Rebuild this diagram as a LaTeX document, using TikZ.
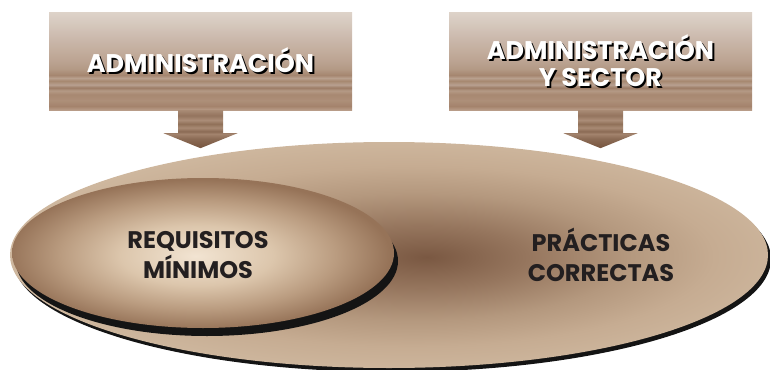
\documentclass[tikz,border=0pt]{standalone}
\usepackage{fontspec}
\setmainfont{Poppins}
\usetikzlibrary{shapes.geometric,shadows}
\definecolor{txtdark}{HTML}{231F20}
% box stripes (bottom = 25bp, top = 75bp)
\pgfdeclareverticalshading{boxsh}{100bp}{%
 color(0bp)=(rgb,255:red,184;green,156;blue,136);
 color(25bp)=(rgb,255:red,184;green,156;blue,136);
 color(27bp)=(rgb,255:red,164;green,131;blue,108);
 color(30bp)=(rgb,255:red,173;green,143;blue,121);
 color(33bp)=(rgb,255:red,168;green,136;blue,113);
 color(35bp)=(rgb,255:red,180;green,154;blue,134);
 color(36.5bp)=(rgb,255:red,156;green,124;blue,102);
 color(38bp)=(rgb,255:red,184;green,160;blue,144);
 color(40bp)=(rgb,255:red,166;green,136;blue,112);
 color(41.5bp)=(rgb,255:red,184;green,160;blue,142);
 color(43bp)=(rgb,255:red,165;green,134;blue,111);
 color(46bp)=(rgb,255:red,179;green,153;blue,133);
 color(50bp)=(rgb,255:red,187;green,163;blue,145);
 color(55bp)=(rgb,255:red,194;green,172;blue,156);
 color(62bp)=(rgb,255:red,203;green,185;blue,172);
 color(70bp)=(rgb,255:red,214;green,201;blue,190);
 color(75bp)=(rgb,255:red,221;green,210;blue,200);
 color(100bp)=(rgb,255:red,221;green,210;blue,200)}
% arrow shading
\pgfdeclareverticalshading{arrsh}{100bp}{%
 color(0bp)=(rgb,255:red,118;green,84;blue,62);
 color(25bp)=(rgb,255:red,118;green,84;blue,62);
 color(38bp)=(rgb,255:red,140;green,108;blue,86);
 color(44bp)=(rgb,255:red,163;green,132;blue,110);
 color(47bp)=(rgb,255:red,138;green,106;blue,84);
 color(52bp)=(rgb,255:red,168;green,138;blue,116);
 color(57bp)=(rgb,255:red,144;green,112;blue,88);
 color(62bp)=(rgb,255:red,171;green,141;blue,120);
 color(68bp)=(rgb,255:red,148;green,116;blue,94);
 color(75bp)=(rgb,255:red,168;green,138;blue,116);
 color(100bp)=(rgb,255:red,168;green,138;blue,116)}
% big ellipse: dark centre, tan edge
\pgfdeclareradialshading{bigsh}{\pgfpoint{2.5bp}{-0.5bp}}{%
 color(0bp)=(rgb,255:red,122;green,88;blue,66);
 color(7bp)=(rgb,255:red,150;green,118;blue,94);
 color(14bp)=(rgb,255:red,180;green,152;blue,126);
 color(20bp)=(rgb,255:red,198;green,172;blue,146);
 color(26bp)=(rgb,255:red,206;green,183;blue,158);
 color(50bp)=(rgb,255:red,206;green,183;blue,158)}
% small ellipse: light centre, darker edge
\pgfdeclareradialshading{smallsh}{\pgfpoint{-1bp}{-1bp}}{%
 color(0bp)=(rgb,255:red,242;green,228;blue,210);
 color(10bp)=(rgb,255:red,220;green,198;blue,172);
 color(18bp)=(rgb,255:red,186;green,156;blue,128);
 color(25bp)=(rgb,255:red,150;green,115;blue,88);
 color(50bp)=(rgb,255:red,150;green,115;blue,88)}
\newcommand{\shtx}[1]{\makebox[0pt][l]{\hspace{1.8pt}\raisebox{-1.8pt}{\textcolor{black}{#1}}}\textcolor{white}{#1}}
\begin{document}
\begin{tikzpicture}[x=1pt,y=-1pt,
  box/.style={rectangle, inner sep=0pt, minimum width=303pt, minimum height=97pt,
    shade, shading=boxsh, align=center, font=\fontsize{25.5}{27}\selectfont\bfseries},
  fatarrow/.style={shade, shading=arrsh},
  bigell/.style={ellipse, inner sep=0pt, minimum width=758pt, minimum height=226pt,
    shade, shading=bigsh,
    drop shadow={shadow xshift=3pt, shadow yshift=-4pt, fill=black!92, opacity=1}},
  smallell/.style={ellipse, inner sep=0pt, minimum width=382pt, minimum height=150pt,
    shade, shading=smallsh,
    drop shadow={shadow xshift=4pt, shadow yshift=-8pt, fill=black!92, opacity=1}},
  elltext/.style={align=center, text=txtdark,
    font=\fontsize{24}{30}\selectfont\bfseries}]
\useasboundingbox (0,0) rectangle (770,369);
% ellipses
\node[bigell] (big) at (389,255) {};
\node[smallell] (small) at (203,253) {};
\node[elltext] (req) at (198,255) {REQUISITOS\\MÍNIMOS};
\node[elltext] (prac) at (601,255) {PRÁCTICAS\\CORRECTAS};
% boxes
\node[box] (boxL) at (200.5,61.5) {\shtx{ADMINISTRACIÓN}};
\node[box] (boxR) at (600.5,61.5) {\shtx{ADMINISTRACIÓN}\\[0pt]\shtx{Y SECTOR}};
% fat arrows from the boxes towards the ellipse
\shade[fatarrow] ([xshift=-22.5pt]boxL.south) -- ++(0,23) -- ++(-14.5,0)
   -- ++(37,15) -- ++(37,-15) -- ++(-14.5,0) -- ++(0,-23) -- cycle;
\shade[fatarrow] ([xshift=-22.5pt]boxR.south) -- ++(0,23) -- ++(-14.5,0)
   -- ++(37,15) -- ++(37,-15) -- ++(-14.5,0) -- ++(0,-23) -- cycle;
\end{tikzpicture}
\end{document}
